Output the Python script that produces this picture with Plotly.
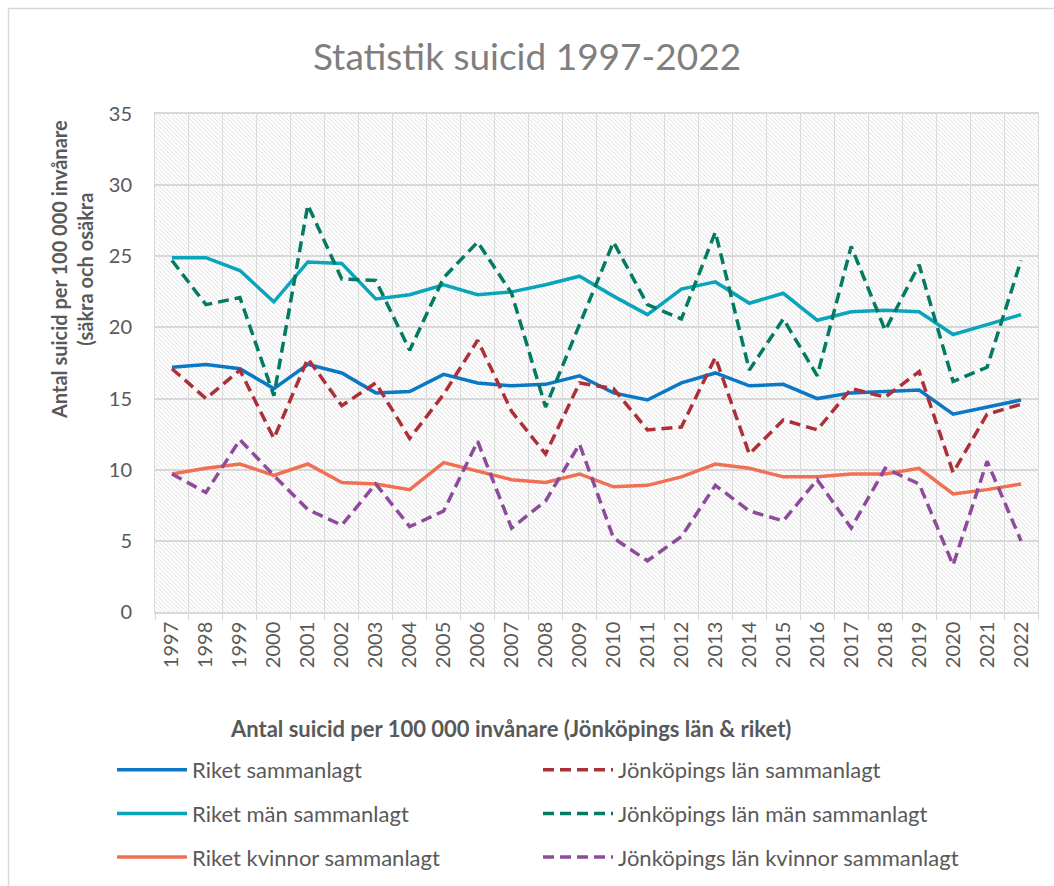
import plotly.graph_objects as go

years = [str(y) for y in range(1997, 2023)]

riket_sammanlagt = [17.2, 17.4, 17.1, 15.7, 17.4, 16.8, 15.4, 15.5, 16.7, 16.1, 15.9, 16.0, 16.6,
                    15.4, 14.9, 16.1, 16.8, 15.9, 16.0, 15.0, 15.4, 15.5, 15.6, 13.9, 14.4, 14.9]
riket_man = [24.9, 24.9, 24.0, 21.8, 24.6, 24.5, 22.0, 22.3, 23.0, 22.3, 22.5, 23.0, 23.6,
             22.2, 20.9, 22.7, 23.2, 21.7, 22.4, 20.5, 21.1, 21.2, 21.1, 19.5, 20.2, 20.9]
riket_kvinnor = [9.7, 10.1, 10.4, 9.6, 10.4, 9.1, 9.0, 8.6, 10.5, 9.9, 9.3, 9.1, 9.7,
                 8.8, 8.9, 9.5, 10.4, 10.1, 9.5, 9.5, 9.7, 9.7, 10.1, 8.3, 8.6, 9.0]
jkp_sammanlagt = [17.1, 15.0, 17.0, 12.2, 17.8, 14.5, 16.1, 12.2, 15.3, 19.1, 14.1, 11.1, 16.1,
                  15.7, 12.8, 13.0, 17.9, 11.1, 13.5, 12.8, 15.7, 15.1, 16.9, 9.8, 13.9, 14.6]
jkp_man = [24.7, 21.6, 22.1, 15.2, 28.6, 23.4, 23.3, 18.4, 23.5, 26.0, 22.4, 14.4, 20.2,
           26.0, 21.6, 20.6, 26.7, 17.0, 20.6, 16.6, 25.7, 19.8, 24.4, 16.2, 17.2, 24.7]
jkp_kvinnor = [9.7, 8.4, 12.1, 9.6, 7.2, 6.1, 9.0, 6.0, 7.1, 12.0, 5.9, 7.8, 11.8,
               5.2, 3.6, 5.3, 8.9, 7.1, 6.4, 9.3, 5.9, 10.1, 9.0, 3.3, 10.6, 5.0]

Y_MAX = 35

# name, values, colour, dash, legend column
series = [
    ("Riket sammanlagt", riket_sammanlagt, "#0a78c4", "solid", "legend"),
    ("Riket män sammanlagt", riket_man, "#0aa5bb", "solid", "legend"),
    ("Riket kvinnor sammanlagt", riket_kvinnor, "#ef7052", "solid", "legend"),
    ("Jönköpings län sammanlagt", jkp_sammanlagt, "#ad2f38", "11px,6px", "legend2"),
    ("Jönköpings län män sammanlagt", jkp_man, "#037b62", "11px,6px", "legend2"),
    ("Jönköpings län kvinnor sammanlagt", jkp_kvinnor, "#8e4b9b", "11px,6px", "legend2"),
]

FONT = "Lato"
TXT = "#595959"

fig = go.Figure()

# hatched plot-area background
fig.add_trace(go.Bar(
    x=years, y=[Y_MAX] * len(years), width=1,
    marker=dict(color="rgba(0,0,0,0)", line=dict(width=0),
                pattern=dict(shape="\\", fgcolor="#d4d4d4", size=3, solidity=0.25, fillmode="replace")),
    showlegend=False, hoverinfo="skip",
))

for name, vals, col, dash, leg in series:
    fig.add_trace(go.Scatter(
        x=years, y=vals, name=name, mode="lines",
        line=dict(color=col, width=3.5, dash=dash),
        legend=leg, legendgroup=name,
    ))

W, H = 1054, 886
ml, mr, mt, mb = 155, 16, 114, 274
pw, ph = W - ml - mr, H - mt - mb

def px(x):
    return (x - ml) / pw

def py(y):
    return (H - mb - y) / ph

leg_common = dict(orientation="v", yanchor="top", xanchor="left",
                  font=dict(size=22, color=TXT, family=FONT),
                  itemwidth=70, tracegroupgap=12, bgcolor="rgba(0,0,0,0)")

fig.update_layout(
    width=W, height=H,
    margin=dict(l=ml, r=mr, t=mt, b=mb, autoexpand=False),
    paper_bgcolor="white", plot_bgcolor="white",
    font=dict(family=FONT, color=TXT),
    bargap=0,
    title=dict(text="Statistik suicid 1997-2022", x=0.5, xanchor="center",
               y=1 - 57 / H, yanchor="middle", yref="container",
               font=dict(size=37, color="#7f7f7f", family=FONT)),
    xaxis=dict(type="category", tickson="boundaries", showgrid=True, gridcolor="#dcdcdc", gridwidth=1,
               ticks="outside", ticklen=6, tickcolor="#d9d9d9", tickangle=-90,
               tickfont=dict(size=20, color=TXT), automargin=False,
               showline=True, linecolor="#d9d9d9", linewidth=1.5, mirror=True),
    yaxis=dict(range=[0, Y_MAX], dtick=5, showgrid=True, gridcolor="#d9d9d9", gridwidth=1.5,
               tickfont=dict(size=20, color=TXT), ticklabelstandoff=18, automargin=False,
               showline=True, linecolor="#d9d9d9", linewidth=1, mirror=True, zeroline=False),
    legend=dict(x=px(112), y=py(749), **leg_common),
    legend2=dict(x=px(538), y=py(749), **leg_common),
    showlegend=True,
)

fig.add_annotation(text="<b>Antal suicid per 100 000 invånare</b><br><b>(säkra och osäkra</b>",
                   textangle=-90, xref="paper", yref="paper", x=px(72), y=py(270),
                   xanchor="center", yanchor="middle", showarrow=False,
                   font=dict(size=20, color=TXT, family=FONT))
fig.add_annotation(text="<b>Antal suicid per 100 000 invånare (Jönköpings län & riket)</b>",
                   xref="paper", yref="paper", x=px(510), y=py(728),
                   xanchor="center", yanchor="middle", showarrow=False,
                   font=dict(size=22, color=TXT, family=FONT))

fig.add_shape(type="rect", xref="paper", yref="paper",
              x0=px(8.5), x1=px(1080), y0=py(920), y1=py(8.5),
              line=dict(color="#d9d9d9", width=1.5), layer="below")

fig.write_html("out.html")
